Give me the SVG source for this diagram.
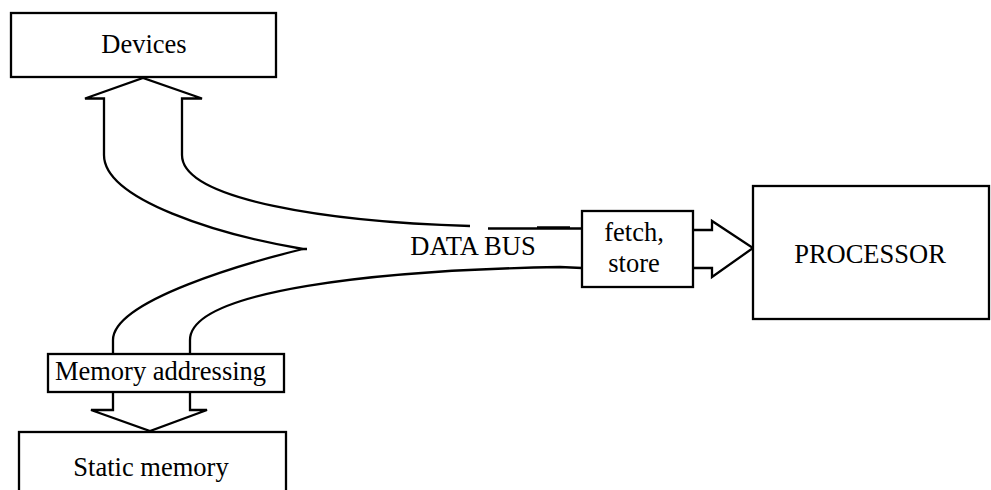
<svg xmlns="http://www.w3.org/2000/svg" width="991" height="490" viewBox="0 0 991 490">
<style>
.box{fill:#fff;stroke:#000;stroke-width:2.3}
.ln{fill:none;stroke:#000;stroke-width:2.3}
text{font-family:"Liberation Serif","Times New Roman",serif;font-size:26.5px;fill:#000;text-anchor:middle}
</style>
<rect width="991" height="490" fill="#fff"/>
<g id="connectors">
<path class="ln" d="M104,155 L104,98.5 L85,98.5 L143,78 L202,98.5 L182,98.5 L182,155"/>
<path class="ln" d="M104,155 C104,200 220,235 303,249 L307,249"/>
<path class="ln" d="M303,249 C250,262 113,300 113,340 L113,354"/>
<path class="ln" d="M182,155 C182,200 330,222 470,226"/>
<path class="ln" d="M488,228.5 L582,228.5"/>
<path class="ln" d="M537,227.5 L570,227.5"/>
<path class="ln" d="M190,354 L190,340 C190,290 380,270 560,267 L582,268"/>
<path class="ln" d="M113,392 L113,410 L91,410 L150,431 L207,410 L190,410 L190,392"/>
<path class="ln" d="M693,230 L712,230 L712,221 L753,248 L712,277 L712,268 L693,268"/>
</g>
<g id="devices">
<rect class="box" x="11" y="13" width="265" height="64"/>
<text x="144" y="53">Devices</text>
</g>
<g id="databus">
<text x="473" y="255">DATA BUS</text>
</g>
<g id="fetchstore">
<rect class="box" x="582" y="211" width="111" height="76"/>
<text x="634" y="241">fetch,</text>
<text x="634" y="272">store</text>
</g>
<g id="processor">
<rect class="box" x="753" y="186" width="236" height="133"/>
<text x="870" y="263">PROCESSOR</text>
</g>
<g id="memaddr">
<rect class="box" x="48" y="354" width="236" height="38"/>
<text x="160.5" y="380">Memory addressing</text>
</g>
<g id="staticmem">
<rect class="box" x="19" y="432" width="267" height="80"/>
<text x="151" y="476">Static memory</text>
</g>
</svg>
